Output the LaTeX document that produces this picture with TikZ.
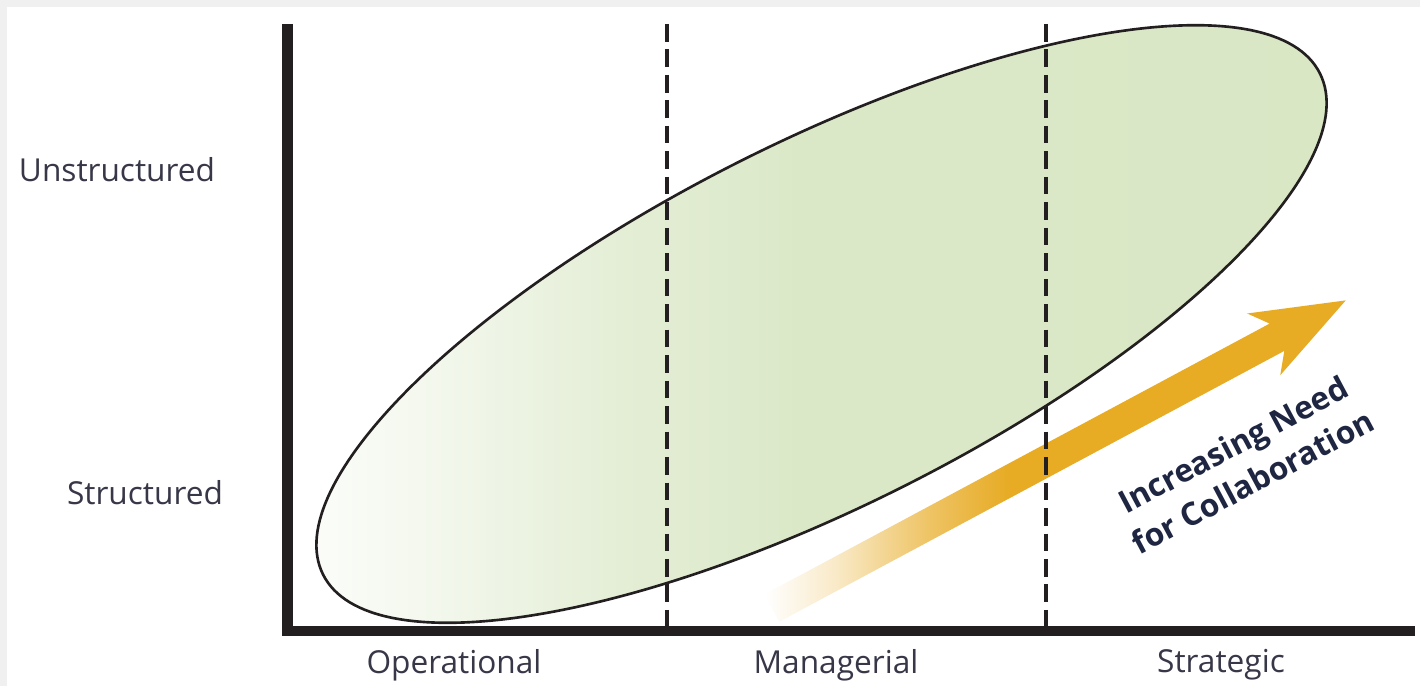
\documentclass[tikz,border=0pt]{standalone}
\usepackage{fontspec}
\setmainfont{Open Sans}
\usetikzlibrary{
    shapes.geometric,
    positioning
}
\definecolor{ellgreen}{RGB}{217,231,197}
\definecolor{arrgold}{RGB}{231,171,36}
\definecolor{axisblack}{RGB}{35,31,32}
\definecolor{labelgrey}{RGB}{55,55,72}
\definecolor{needblue}{RGB}{30,38,66}
\definecolor{edgegrey}{RGB}{240,240,240}
\pgfdeclarehorizontalshading{ellfade}{100bp}{color(0bp)=(ellgreen!4); color(25bp)=(ellgreen!4); color(33bp)=(ellgreen!35); color(41bp)=(ellgreen!72); color(49bp)=(ellgreen!95); color(75bp)=(ellgreen); color(100bp)=(ellgreen)}
\pgfdeclarehorizontalshading{arrfade}{100bp}{color(0bp)=(white); color(25bp)=(white); color(31bp)=(arrgold!25); color(39bp)=(arrgold!70); color(46bp)=(arrgold); color(100bp)=(arrgold)}

\begin{document}
\begin{tikzpicture}[x=0.02cm, y=-0.02cm,
    lab/.style={text=labelgrey, font=\fontsize{18}{23}\selectfont, inner sep=0pt},
    needlab/.style={text=needblue, font=\fontsize{18}{24}\selectfont\bfseries, align=center, inner sep=0pt},
    axis/.style={draw=axisblack, line width=6.2pt},
    divider/.style={draw=axisblack, line width=2.5pt, dash pattern=on 10pt off 4.5pt}]
    \useasboundingbox (0,0) rectangle (1420,686);
    \fill[edgegrey] (0,0) rectangle (1420,686);
    \fill[white] (7,7) rectangle (1420,686);

    \node[ellipse, draw=axisblack, line width=1.5pt, shade, shading=ellfade,
        minimum width=22.32cm, minimum height=7.28cm, inner sep=0pt, rotate=26.7] (spread) at (821.5, 324) {};

    \coordinate (arrtail) at (772, 608);
    \begin{scope}[shift={(arrtail)}, rotate=28.2]
        \shade[shading=arrfade] (0, -15.5) -- (573, -15.5) -- (558, -35) -- (651, 0)
            -- (558, 35) -- (573, 15.5) -- (0, 15.5) -- cycle;
    \end{scope}

    \coordinate (opsplit top) at (667, 24);
    \coordinate (opsplit bot) at (667, 626);
    \coordinate (mansplit top) at (1046, 24);
    \coordinate (mansplit bot) at (1046, 626);
    \draw[divider] (opsplit top) -- (opsplit bot);
    \draw[divider] (mansplit top) -- (mansplit bot);

    \coordinate (ytop) at (287.5, 24);
    \coordinate (origin) at (287.5, 631);
    \coordinate (xend) at (1415, 631);
    \draw[axis] (ytop) -- (origin) -- (xend);

    \node[lab] (unstr) at (117, 170) {Unstructured};
    \node[lab] (str) at (145, 493) {Structured};
    \node[lab] (oper) at (454, 665) {Operational};
    \node[lab] (manag) at (836, 665) {Managerial};
    \node[lab] (strat) at (1221, 665) {Strategic};
    \node[needlab, rotate=28] (need) at (1243, 463) {Increasing Need\\for Collaboration};
\end{tikzpicture}
\end{document}
